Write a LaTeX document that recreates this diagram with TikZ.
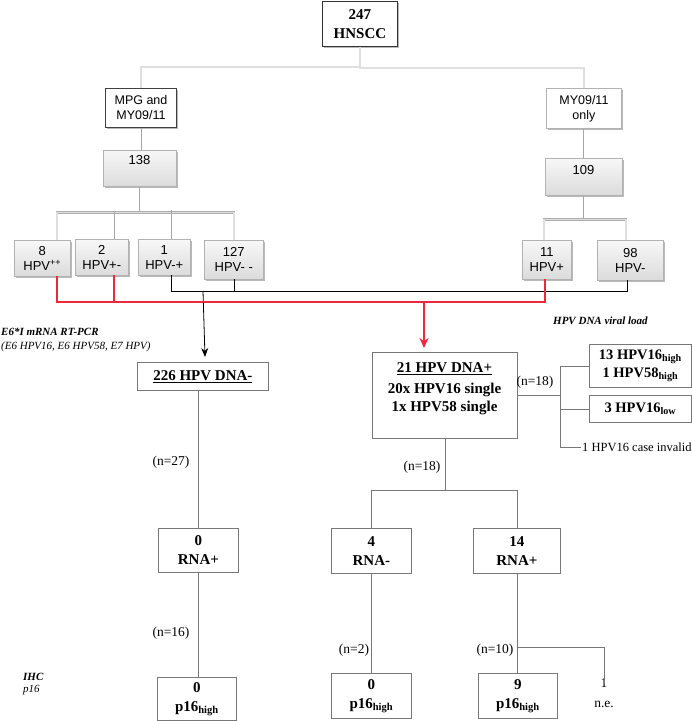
\documentclass[tikz,border=0pt]{standalone}
\usepackage{fontspec}
\setmainfont{Liberation Serif}
\setsansfont{Liberation Sans}
\usetikzlibrary{shadows,arrows.meta,calc}
\definecolor{redline}{RGB}{236,40,60}
\definecolor{lowline}{RGB}{120,120,120}
\begin{document}
\begin{tikzpicture}[x=1pt,y=-1pt,
  shd/.style={drop shadow={shadow xshift=1.2pt,shadow yshift=-1.4pt,fill=gray!55,opacity=1}},
  topbox/.style={draw=black!80,line width=0.9pt,fill=white,shd,anchor=north west,inner sep=0pt,align=center,
    font=\fontsize{15}{19}\selectfont\bfseries},
  sbox/.style={fill=white,shd,anchor=north west,inner sep=0pt,align=center,
    font=\sffamily\fontsize{12.5}{15}\selectfont},
  gbox/.style={draw=gray!60,line width=0.6pt,top color=gray!6,bottom color=gray!28,shd,anchor=north west,inner sep=0pt,align=center,
    font=\sffamily\fontsize{13}{15}\selectfont},
  wbox/.style={draw=lowline,line width=0.8pt,fill=white,anchor=north west,inner sep=0pt,align=center,
    font=\fontsize{15}{19}\selectfont\bfseries},
  tconn/.style={draw=gray!65,line width=0.5pt,double=gray!25,double distance=1.3pt},
  gconn/.style={draw=gray!70,line width=0.9pt},
  lconn/.style={draw=lowline,line width=0.8pt},
  kconn/.style={draw=black,line width=0.8pt},
  rconn/.style={draw=redline,line width=1.6pt},
  lbl/.style={inner sep=1pt,font=\fontsize{13.5}{16}\selectfont},
  note/.style={anchor=west,inner sep=0pt,font=\fontsize{11}{13}\selectfont\bfseries\itshape},
]
\useasboundingbox (0,0) rectangle (692,721);

% top level
\node[topbox,minimum width=75pt,minimum height=45pt] (n247) at (322,1) {247\\HNSCC};
\node[sbox,draw=black!75,line width=1pt,minimum width=71pt,minimum height=39pt] (mpg) at (105,88) {MPG and\\MY09/11};
\node[sbox,draw=gray!60,line width=0.8pt,minimum width=75pt,minimum height=40pt] (myo) at (546,88) {MY09/11\\only};

\node[gbox,minimum width=73pt,minimum height=36pt] (b138) at (103,150) {};
\node[font=\sffamily\fontsize{13}{15}\selectfont,inner sep=0pt] (t138) at (139.5,160) {138};
\node[gbox,minimum width=77pt,minimum height=37pt] (b109) at (545,158) {};
\node[font=\sffamily\fontsize{13}{15}\selectfont,inner sep=0pt] (t109) at (583.5,170) {109};

\node[gbox,minimum width=56pt,minimum height=36pt] (b8) at (14,240) {8\\HPV\textsuperscript{++}};
\node[gbox,minimum width=53pt,minimum height=36pt] (b2) at (75,239) {2\\HPV+-};
\node[gbox,minimum width=52pt,minimum height=36pt] (b1) at (138,239) {1\\HPV-+};
\node[gbox,minimum width=59pt,minimum height=39pt] (b127) at (204,240) {127\\HPV- -};
\node[gbox,minimum width=49pt,minimum height=39pt] (b11) at (522,240) {11\\HPV+};
\node[gbox,minimum width=66pt,minimum height=40pt] (b98) at (597,240) {98\\HPV-};

% connectors top
\draw[tconn] (n247.south) -- ++(0,20) -| (mpg.north);
\draw[tconn] (n247.south) -- ++(0,21) -| (myo.north);
\draw[gconn] (mpg.south) -- (mpg.south |- b138.north);
\draw[gconn] (myo.south) -- (myo.south |- b109.north);

\coordinate (d8) at (57,240);
\coordinate (d2) at (114,239);
\coordinate (d1) at (171,239);
\coordinate (d127) at (234,240);
\draw[gconn] (b138.south) -- ++(0,26);
\draw[tconn] ($(b138.south)+(0,26)$) -| (d8);
\draw[tconn] ($(b138.south)+(0,26)$) -| (d127);
\draw[gconn] ($(d2)+(0,-27)$) -- (d2);
\draw[gconn] ($(d1)+(0,-29)$) -- (d1);
\draw[gconn] (b109.south) -- ++(0,24);
\draw[tconn] ($(b109.south)+(0,24)$) -| ($(b11.north west)+(22,0)$) coordinate (d11);
\draw[tconn] ($(b109.south)+(0,24)$) -| (b98.north -| 626,0) coordinate (d98);

% black connectors
\coordinate (k1) at (171,275);
\coordinate (k127) at (234,279);
\coordinate (k98) at (627,280);
\coordinate (ka) at (203,291);
\coordinate (kat) at (205,357);
\draw[kconn] (k1) -- ++(0,16) -| (k98);
\draw[kconn] (k127) -- ++(0,12);
\draw[kconn,-{Stealth[length=9pt,width=7pt]}] (ka) -- (kat);

% red connectors
\coordinate (r8) at (57,276);
\coordinate (r2) at (114,275);
\coordinate (r11) at (545,279);
\coordinate (ra) at (424,302);
\coordinate (rat) at (424,348);
\draw[rconn] (r8) -- ++(0,26) -| (r11);
\draw[rconn] (r2) -- ++(0,27);
\draw[rconn,-{Stealth[length=10pt,width=9pt]}] (ra) -- (rat);

% notes
\node[note] (e6) at (1,332) {E6*I mRNA RT-PCR};
\node[note,font=\fontsize{11}{13}\selectfont\itshape] (e6b) at (1,347) {(E6 HPV16, E6 HPV58, E7 HPV)};
\node[note] (vload) at (553,321) {HPV DNA viral load};
\node[note] (ihc) at (23,677) {IHC};
\node[note,font=\fontsize{11}{13}\selectfont\itshape] (p16n) at (23,690) {p16};

% second level
\node[wbox,minimum width=131pt,minimum height=28pt] (dneg) at (137,362) {\underline{226 HPV DNA-}};
\node[wbox,minimum width=145pt,minimum height=86pt] (dpos) at (372,352) {};
\node[align=center,inner sep=0pt,font=\fontsize{15}{18}\selectfont\bfseries] (dpost) at (444.5,389)
  {\underline{21 HPV DNA+}\\[3pt]20x HPV16 single\\1x HPV58 single};
\node[wbox,font=\fontsize{14.5}{18}\selectfont\bfseries,minimum width=102pt,minimum height=43pt] (hhigh) at (589,344)
  {13 HPV16\textsubscript{high}\\1 HPV58\textsubscript{high}};
\node[wbox,font=\fontsize{14.5}{18}\selectfont\bfseries,minimum width=102pt,minimum height=27pt] (hlow) at (589,395)
  {3 HPV16\textsubscript{low}};
\node[anchor=west,inner sep=1pt,font=\fontsize{12.5}{15}\selectfont] (inv) at (581,447) {1 HPV16 case invalid};

\coordinate (vx) at (560,365);
\draw[lconn] (hhigh.west) -- (hhigh.west -| vx) |- (inv.west);
\draw[lconn] (hlow.west) -- (hlow.west -| vx);
\draw[lconn] (dpos.east) -- (dpos.east -| vx);
\node[lbl] (n18a) at (535,382) {(n=18)};

% RNA level
\node[wbox,minimum width=80pt,minimum height=44pt] (rna0) at (158,528) {0\\RNA+};
\node[wbox,minimum width=80pt,minimum height=45pt] (rna4) at (331,528) {4\\RNA-};
\node[wbox,minimum width=87pt,minimum height=45pt] (rna14) at (473,528) {14\\RNA+};

\draw[lconn] (rna0.north) -- (rna0.north |- dneg.south);
\node[lbl] (n27) at (171,462) {(n=27)};
\draw[lconn] (dpos.south) -- ++(0,52) -| (rna4.north);
\draw[lconn] (dpos.south) -- ++(0,52) -| (rna14.north);
\node[lbl] (n18b) at (422,467) {(n=18)};

% p16 level
\node[wbox,minimum width=79pt,minimum height=43pt] (p0a) at (157,677) {0\\p16\textsubscript{high}};
\node[wbox,minimum width=80pt,minimum height=45pt] (p0b) at (331,673) {0\\p16\textsubscript{high}};
\node[wbox,minimum width=79pt,minimum height=45pt] (p9) at (478,673) {9\\p16\textsubscript{high}};
\node[align=center,inner sep=0pt,font=\fontsize{13.5}{20}\selectfont] (ne) at (604,693) {1\\n.e.};

\draw[lconn] (rna0.south) -- (rna0.south |- p0a.north);
\node[lbl] (n16) at (171,633) {(n=16)};
\draw[lconn] (rna4.south) -- (rna4.south |- p0b.north);
\node[lbl] (n2) at (354,650) {(n=2)};
\draw[lconn] (rna14.south) -- (rna14.south |- p9.north);
\draw[lconn] ($(rna14.south)+(0,74)$) -| ($(ne.north)+(0,6)$);
\node[lbl] (n10) at (495,650) {(n=10)};
\end{tikzpicture}
\end{document}
